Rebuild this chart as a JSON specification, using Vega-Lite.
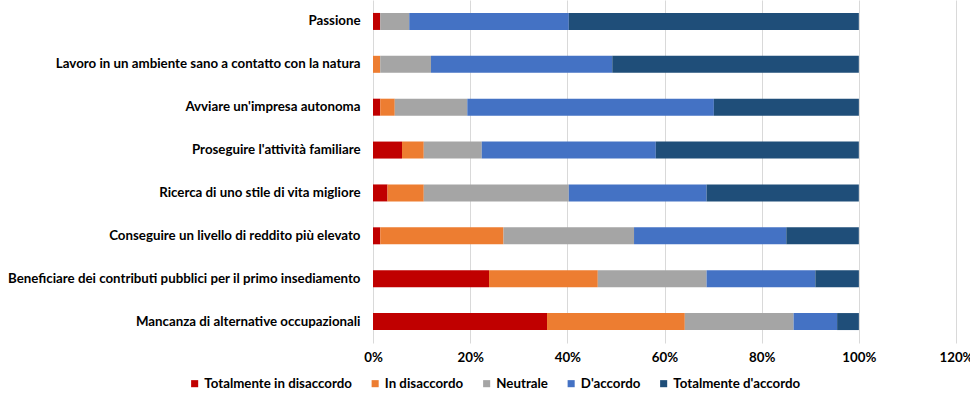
{
  "$schema": "https://vega.github.io/schema/vega-lite/v6.json",
  "width": 583,
  "height": 343,
  "autosize": {"type": "none"},
  "padding": {"left": 373, "top": 0, "right": 14, "bottom": 58},
  "background": "white",
  "config": {
    "view": {"stroke": null},
    "font": "Lato",
    "axis": {"labelFont": "Lato", "labelFontWeight": "bold", "labelColor": "#000000"},
    "legend": {"labelFont": "Lato", "labelFontWeight": "bold", "labelColor": "#000000"}
  },
  "data": {
    "values": [
      {"cat": "Passione", "resp": "Totalmente in disaccordo", "k": 1, "v": 1.49},
      {"cat": "Passione", "resp": "In disaccordo", "k": 2, "v": 0},
      {"cat": "Passione", "resp": "Neutrale", "k": 3, "v": 5.97},
      {"cat": "Passione", "resp": "D'accordo", "k": 4, "v": 32.84},
      {"cat": "Passione", "resp": "Totalmente d'accordo", "k": 5, "v": 59.70},
      {"cat": "Lavoro in un ambiente sano a contatto con la natura", "resp": "Totalmente in disaccordo", "k": 1, "v": 0},
      {"cat": "Lavoro in un ambiente sano a contatto con la natura", "resp": "In disaccordo", "k": 2, "v": 1.49},
      {"cat": "Lavoro in un ambiente sano a contatto con la natura", "resp": "Neutrale", "k": 3, "v": 10.45},
      {"cat": "Lavoro in un ambiente sano a contatto con la natura", "resp": "D'accordo", "k": 4, "v": 37.31},
      {"cat": "Lavoro in un ambiente sano a contatto con la natura", "resp": "Totalmente d'accordo", "k": 5, "v": 50.75},
      {"cat": "Avviare un'impresa autonoma", "resp": "Totalmente in disaccordo", "k": 1, "v": 1.49},
      {"cat": "Avviare un'impresa autonoma", "resp": "In disaccordo", "k": 2, "v": 2.99},
      {"cat": "Avviare un'impresa autonoma", "resp": "Neutrale", "k": 3, "v": 14.93},
      {"cat": "Avviare un'impresa autonoma", "resp": "D'accordo", "k": 4, "v": 50.75},
      {"cat": "Avviare un'impresa autonoma", "resp": "Totalmente d'accordo", "k": 5, "v": 29.85},
      {"cat": "Proseguire l'attività familiare", "resp": "Totalmente in disaccordo", "k": 1, "v": 5.97},
      {"cat": "Proseguire l'attività familiare", "resp": "In disaccordo", "k": 2, "v": 4.48},
      {"cat": "Proseguire l'attività familiare", "resp": "Neutrale", "k": 3, "v": 11.94},
      {"cat": "Proseguire l'attività familiare", "resp": "D'accordo", "k": 4, "v": 35.82},
      {"cat": "Proseguire l'attività familiare", "resp": "Totalmente d'accordo", "k": 5, "v": 41.79},
      {"cat": "Ricerca di uno stile di vita migliore", "resp": "Totalmente in disaccordo", "k": 1, "v": 2.99},
      {"cat": "Ricerca di uno stile di vita migliore", "resp": "In disaccordo", "k": 2, "v": 7.46},
      {"cat": "Ricerca di uno stile di vita migliore", "resp": "Neutrale", "k": 3, "v": 29.85},
      {"cat": "Ricerca di uno stile di vita migliore", "resp": "D'accordo", "k": 4, "v": 28.36},
      {"cat": "Ricerca di uno stile di vita migliore", "resp": "Totalmente d'accordo", "k": 5, "v": 31.34},
      {"cat": "Conseguire un livello di reddito più elevato", "resp": "Totalmente in disaccordo", "k": 1, "v": 1.49},
      {"cat": "Conseguire un livello di reddito più elevato", "resp": "In disaccordo", "k": 2, "v": 25.37},
      {"cat": "Conseguire un livello di reddito più elevato", "resp": "Neutrale", "k": 3, "v": 26.87},
      {"cat": "Conseguire un livello di reddito più elevato", "resp": "D'accordo", "k": 4, "v": 31.34},
      {"cat": "Conseguire un livello di reddito più elevato", "resp": "Totalmente d'accordo", "k": 5, "v": 14.93},
      {"cat": "Beneficiare dei contributi pubblici per il primo insediamento", "resp": "Totalmente in disaccordo", "k": 1, "v": 23.88},
      {"cat": "Beneficiare dei contributi pubblici per il primo insediamento", "resp": "In disaccordo", "k": 2, "v": 22.39},
      {"cat": "Beneficiare dei contributi pubblici per il primo insediamento", "resp": "Neutrale", "k": 3, "v": 22.39},
      {"cat": "Beneficiare dei contributi pubblici per il primo insediamento", "resp": "D'accordo", "k": 4, "v": 22.39},
      {"cat": "Beneficiare dei contributi pubblici per il primo insediamento", "resp": "Totalmente d'accordo", "k": 5, "v": 8.96},
      {"cat": "Mancanza di alternative occupazionali", "resp": "Totalmente in disaccordo", "k": 1, "v": 35.82},
      {"cat": "Mancanza di alternative occupazionali", "resp": "In disaccordo", "k": 2, "v": 28.36},
      {"cat": "Mancanza di alternative occupazionali", "resp": "Neutrale", "k": 3, "v": 22.39},
      {"cat": "Mancanza di alternative occupazionali", "resp": "D'accordo", "k": 4, "v": 8.96},
      {"cat": "Mancanza di alternative occupazionali", "resp": "Totalmente d'accordo", "k": 5, "v": 4.48}
    ]
  },
  "mark": {"type": "bar", "size": 17},
  "encoding": {
    "y": {
      "field": "cat", "type": "nominal", "sort": null, "title": null,
      "axis": {"ticks": false, "domain": false, "labelFontSize": 13.3, "labelPadding": 13, "labelLimit": 400}
    },
    "x": {
      "field": "v", "type": "quantitative", "stack": "zero", "title": null,
      "scale": {"domain": [0, 120], "nice": false},
      "axis": {
        "values": [0, 20, 40, 60, 80, 100, 120],
        "labelExpr": "datum.value + '%'",
        "ticks": false, "domain": false,
        "gridColor": "#d9d9d9", "gridWidth": 1,
        "labelFontSize": 13.3, "labelPadding": 7, "labelFlush": false
      }
    },
    "order": {"field": "k", "type": "quantitative"},
    "color": {
      "field": "resp", "type": "nominal", "title": null,
      "scale": {
        "domain": ["Totalmente in disaccordo", "In disaccordo", "Neutrale", "D'accordo", "Totalmente d'accordo"],
        "range": ["#C00000", "#ED7D31", "#A5A5A5", "#4472C4", "#1F4E79"]
      },
      "legend": {
        "orient": "none", "direction": "horizontal",
        "legendX": -185, "legendY": 377,
        "symbolType": "square", "symbolSize": 50, "symbolStrokeWidth": 0,
        "labelFontSize": 13.3, "labelOffset": 3, "columnPadding": 16.5
      }
    }
  }
}
